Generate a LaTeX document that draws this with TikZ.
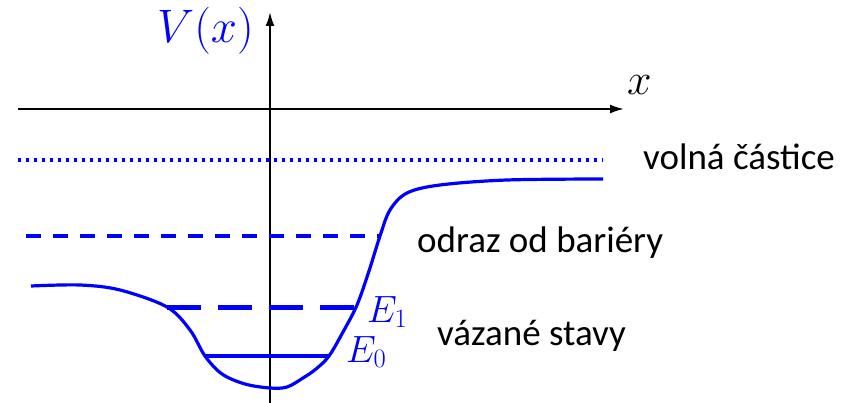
\documentclass[tikz,border=0pt]{standalone}
\usepackage{fix-cm}
\usepackage{fontspec}
\setmainfont{Carlito}
\usetikzlibrary{arrows.meta}
\tikzset{
  axis/.style={black, line width=2pt, -{Latex[length=14pt,width=9pt]}},
  pot/.style={blue, line width=3.2pt, line join=round},
  lbl/.style={anchor=base west, inner sep=0pt, font=\fontsize{37}{39}\selectfont},
  mlbl/.style={blue, inner sep=0pt, anchor=base west, font=\fontsize{38}{40}\selectfont}
}
\begin{document}
\begin{tikzpicture}[x=1pt,y=-1pt]
\useasboundingbox (0,0) rectangle (850,403);
% axes
\coordinate (xs) at (18,109);
\coordinate (xe) at (624,109);
\coordinate (ys) at (270,403);
\coordinate (ye) at (270,12);
\draw[axis] (xs) -- (xe);
\draw[axis] (ys) -- (ye);
\node[inner sep=0pt, anchor=base west, font=\fontsize{44}{46}\selectfont] (xl) at (627,95) {$x$};
\node[mlbl, font=\fontsize{47}{49}\selectfont] (vl) at (157,43) {$V(x)$};
% levels
\coordinate (fa) at (18,160); \coordinate (fb) at (603,160);
\draw[blue, line width=3.3pt, dash pattern=on 3.3pt off 4.7pt] (fa) -- (fb);
\coordinate (ra) at (26,236); \coordinate (rb) at (380,236);
\draw[blue, line width=3.3pt, dash pattern=on 15pt off 12pt] (ra) -- (rb);
\coordinate (e1a) at (167,307); \coordinate (e1b) at (356,307);
\draw[blue, line width=5pt, dash pattern=on 34pt off 17pt] (e1a) -- (e1b);
\coordinate (e0a) at (205,356); \coordinate (e0b) at (329,356);
\draw[blue, line width=4.8pt] (e0a) -- (e0b);
% potential
\draw[pot] plot[smooth, tension=0.55] coordinates {
(31,286) (80,285) (120,290) (167,307) (190,330) (205,356) (222,374) (245,384) (270,388) (287,387) (303,378) (316,369) (329,356) (343,332) (357,305) (369,271) (380,236) (390,210) (407,193) (440,185) (507,180) (603,179)};
\node[mlbl] (e1) at (367,322) {$E_1$};
\node[mlbl] (e0) at (346,362) {$E_0$};
% texts
\node[lbl] (t1) at (643,170) {volná částice};
\node[lbl] (t2) at (417,252) {odraz od bariéry};
\node[lbl] (t3) at (437,345) {vázané stavy};
\end{tikzpicture}
\end{document}
